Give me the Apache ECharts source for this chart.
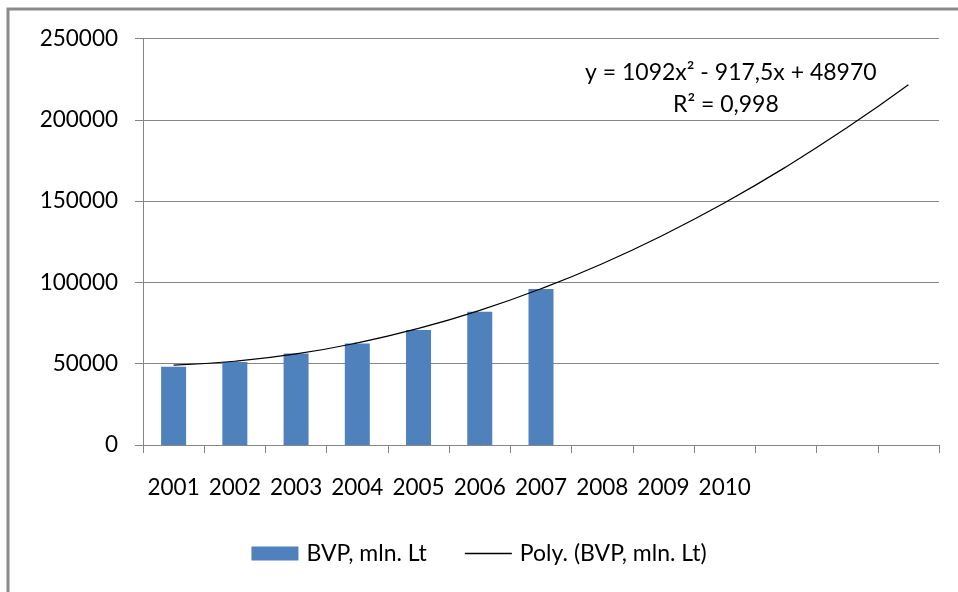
<!DOCTYPE html>
<html>
<head>
<meta charset="utf-8">
<script src="https://cdn.jsdelivr.net/npm/echarts@6/dist/echarts.min.js"></script>
<style>
    html, body { margin: 0; padding: 0; background: #fff; }
    #chart { width: 958px; height: 592px; }
</style>
</head>
<body>
<div id="chart"></div>
<script>
    // 13 category slots, only first 10 labelled
    const years = ['2001', '2002', '2003', '2004', '2005', '2006', '2007', '2008', '2009', '2010', '', '', ''];
    const bvp = [48200, 51100, 56200, 62400, 70800, 81900, 96000];
    const polyTrend = [49100, 51500, 56000, 62800, 71700, 82800, 96100, 111500, 129200, 149000, 171000, 195200, 221600];
    const yTicks = [0, 50000, 100000, 150000, 200000, 250000];
    const equation = 'y = 1092x\u00B2 - 917,5x + 48970';
    const rSquared = 'R\u00B2 = 0,998';

    const font = 'Lato';
    const chart = echarts.init(document.getElementById('chart'));

    const option = {
        animation: false,
        textStyle: { fontFamily: font },
        grid: { left: 143, right: 19, top: 38.5, bottom: 147 },
        legend: {
            bottom: 22,
            left: 'center',
            itemWidth: 47,
            itemHeight: 14,
            itemGap: 38,
            textStyle: { fontFamily: font, fontSize: 23, color: '#000', padding: [0, 0, 0, 3] },
            data: [
                { name: 'BVP, mln. Lt', icon: 'rect' },
                { name: 'Poly. (BVP, mln. Lt)', icon: 'path://M0,0 L48,0 L48,1.5 L0,1.5 Z' }
            ]
        },
        xAxis: {
            type: 'category',
            data: years,
            boundaryGap: true,
            axisLine: { lineStyle: { color: '#868686', width: 1 } },
            axisTick: { show: true, length: 8, lineStyle: { color: '#868686' } },
            axisLabel: { color: '#000', fontSize: 22.5, margin: 31, interval: 0 }
        },
        yAxis: {
            type: 'value',
            min: yTicks[0],
            max: yTicks[yTicks.length - 1],
            interval: 50000,
            axisLine: { show: true, lineStyle: { color: '#868686', width: 1 } },
            axisTick: { show: true, length: 8, lineStyle: { color: '#868686' } },
            splitLine: { lineStyle: { color: '#868686', width: 1 } },
            axisLabel: { color: '#000', fontSize: 22.5, margin: 25, formatter: (v) => String(v) }
        },
        graphic: [
            {
                type: 'rect',
                shape: { x: 8, y: 9, width: 1200, height: 800 },
                style: { fill: 'none', stroke: '#8a8a8a', lineWidth: 3 },
                silent: true
            },
            {
                type: 'text',
                left: 585,
                top: 61,
                style: { text: equation, fontFamily: font, fontSize: 23, fill: '#000' }
            },
            {
                type: 'text',
                left: 673,
                top: 93,
                style: { text: rSquared, fontFamily: font, fontSize: 23, fill: '#000' }
            }
        ],
        series: [
            {
                name: 'BVP, mln. Lt',
                type: 'bar',
                data: bvp,
                barWidth: 25,
                itemStyle: { color: '#4f81bd' }
            },
            {
                name: 'Poly. (BVP, mln. Lt)',
                type: 'line',
                data: polyTrend,
                smooth: true,
                symbol: 'none',
                lineStyle: { color: '#000', width: 1.2 },
                itemStyle: { color: '#000' }
            }
        ]
    };

    chart.setOption(option);
</script>
</body>
</html>
